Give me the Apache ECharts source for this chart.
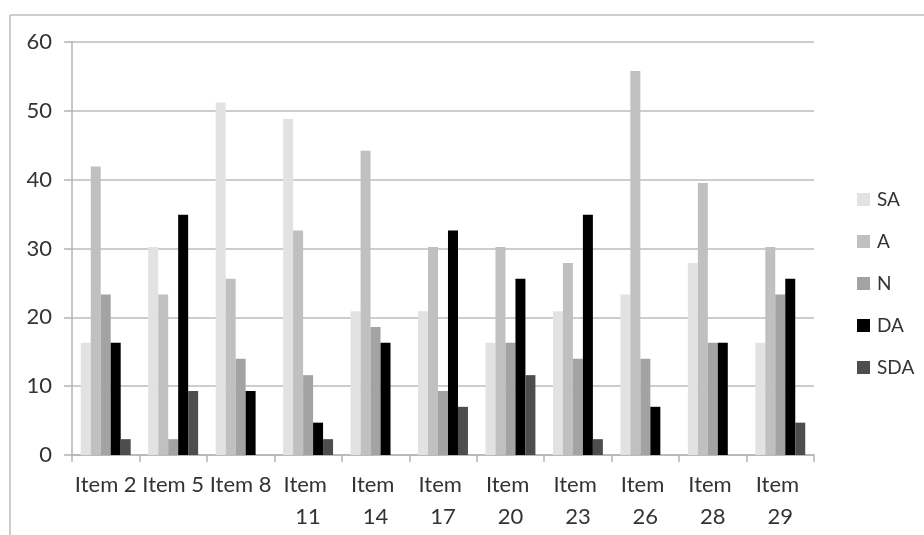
<!DOCTYPE html>
<html>
<head>
<meta charset="utf-8">
<title>Item responses</title>
<script src="https://cdn.jsdelivr.net/npm/echarts@6/dist/echarts.min.js"></script>
<style>
  html, body { margin: 0; padding: 0; background: #ffffff; }
  #chart { width: 924px; height: 535px; }
</style>
</head>
<body>
<div id="chart"></div>
<script>
// Items on the questionnaire
const categories = ['Item 2', 'Item 5', 'Item 8', 'Item 11', 'Item 14', 'Item 17',
                    'Item 20', 'Item 23', 'Item 26', 'Item 28', 'Item 29'];

// Percentage of respondents per response option
const saValues  = [16.3, 30.2, 51.2, 48.8, 20.9, 20.9, 16.3, 20.9, 23.3, 27.9, 16.3];
const aValues   = [41.9, 23.3, 25.6, 32.6, 44.2, 30.2, 30.2, 27.9, 55.8, 39.5, 30.2];
const nValues   = [23.3, 2.3, 14.0, 11.6, 18.6, 9.3, 16.3, 14.0, 14.0, 16.3, 23.3];
const daValues  = [16.3, 34.9, 9.3, 4.7, 16.3, 32.6, 25.6, 34.9, 7.0, 16.3, 25.6];
const sdaValues = [2.3, 9.3, 0, 2.3, 0, 7.0, 11.6, 2.3, 0, 0, 4.7];

// Value axis ticks
const yTicks = [0, 10, 20, 30, 40, 50, 60];

const seriesNames = ['SA', 'A', 'N', 'DA', 'SDA'];
const seriesData = [saValues, aValues, nValues, daValues, sdaValues];
const seriesColors = ['#e2e2e2', '#c0c0c0', '#a3a3a3', '#000000', '#4d4d4d'];

const FONT = 'Lato, "Liberation Sans", sans-serif';
const TEXT = '#333333';
const LINE = '#b4b4b4';

const chart = echarts.init(document.getElementById('chart'), null, { renderer: 'canvas' });

chart.setOption({
  animation: false,
  backgroundColor: '#ffffff',
  textStyle: { fontFamily: FONT },
  graphic: [
    { type: 'line', shape: { x1: 10, y1: 15, x2: 924, y2: 15 },
      style: { stroke: '#bdbdbd', lineWidth: 1.5 }, silent: true },
    { type: 'line', shape: { x1: 10, y1: 15, x2: 10, y2: 535 },
      style: { stroke: '#bdbdbd', lineWidth: 1.5 }, silent: true }
  ],
  grid: { left: 72, right: 110, top: 42, bottom: 80, containLabel: false },
  legend: {
    orient: 'vertical',
    left: 852,
    top: 185,
    itemWidth: 13,
    itemHeight: 13,
    itemGap: 23,
    icon: 'rect',
    data: seriesNames,
    textStyle: { fontSize: 19, lineHeight: 19, color: TEXT, fontFamily: FONT, padding: [0, 0, 0, 2] }
  },
  xAxis: {
    type: 'category',
    data: categories,
    axisLine: { show: true, lineStyle: { color: LINE, width: 1.5 } },
    axisTick: { show: true, length: 7, alignWithLabel: false, lineStyle: { color: LINE, width: 1.5 } },
    axisLabel: {
      interval: 0,
      margin: 14,
      fontSize: 22,
      lineHeight: 32,
      color: TEXT,
      fontFamily: FONT,
      width: 67,
      overflow: 'break'
    },
    splitLine: { show: false }
  },
  yAxis: {
    type: 'value',
    min: yTicks[0],
    max: yTicks[yTicks.length - 1],
    interval: yTicks[1] - yTicks[0],
    axisLine: { show: true, lineStyle: { color: LINE, width: 1.5 } },
    axisTick: { show: true, length: 8, lineStyle: { color: LINE, width: 1.5 } },
    axisLabel: { fontSize: 22, color: TEXT, fontFamily: FONT, margin: 20 },
    splitLine: { show: true, lineStyle: { color: '#bcbcbc', width: 1.5 } }
  },
  series: seriesNames.map((name, i) => ({
    name: name,
    type: 'bar',
    data: seriesData[i],
    barGap: '0%',
    barCategoryGap: '26%',
    itemStyle: { color: seriesColors[i] }
  }))
});
</script>
</body>
</html>
